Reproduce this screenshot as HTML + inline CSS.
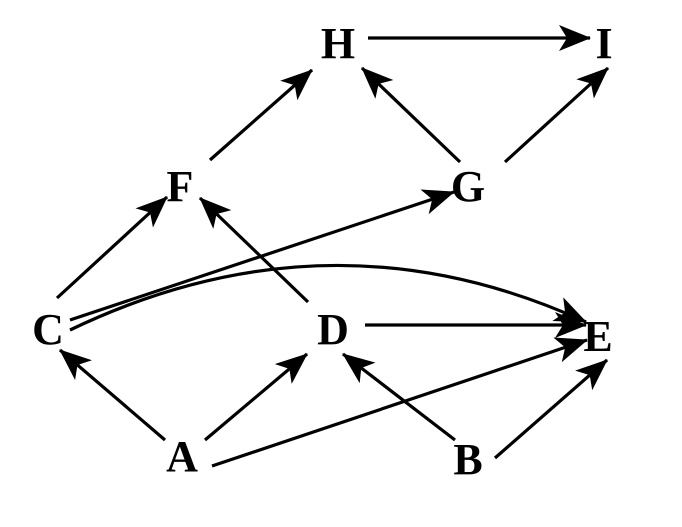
<!DOCTYPE html>
<html><head><style>html,body{margin:0;padding:0;background:#fff}</style></head>
<body>
<svg width="682" height="522" viewBox="0 0 682 522" xmlns="http://www.w3.org/2000/svg">
<defs>
<marker id="a" viewBox="0 0 32 26" refX="31" refY="13" markerWidth="32" markerHeight="26" markerUnits="userSpaceOnUse" orient="auto">
<path d="M0,0 L32,13 L0,26 L8,13 Z" fill="#000"/>
</marker>
</defs>
<g stroke="#000" stroke-width="3.2" fill="none" marker-end="url(#a)">
<line x1="368" y1="38" x2="590" y2="38"/>
<line x1="210" y1="160" x2="312" y2="70"/>
<line x1="460" y1="162" x2="362" y2="68"/>
<line x1="505" y1="162" x2="608" y2="68"/>
<line x1="57" y1="298" x2="167" y2="197"/>
<line x1="308" y1="302" x2="200" y2="198"/>
<line x1="70" y1="320" x2="454" y2="192"/>
<path d="M70,330 Q330,205 586,322"/>
<line x1="365" y1="325" x2="586" y2="325"/>
<line x1="165" y1="440" x2="60" y2="350"/>
<line x1="205" y1="440" x2="307" y2="354"/>
<line x1="212" y1="466" x2="587" y2="340"/>
<line x1="455" y1="440" x2="343" y2="354"/>
<line x1="495" y1="458" x2="607" y2="360"/>
</g>
<g font-family="Liberation Serif, serif" font-weight="bold" font-size="44" text-anchor="middle" fill="#000">
<text x="338" y="58">H</text>
<text x="604" y="58">I</text>
<text x="180" y="201">F</text>
<text x="468" y="201">G</text>
<text x="48" y="344">C</text>
<text x="333" y="344">D</text>
<text x="598" y="351">E</text>
<text x="182" y="471">A</text>
<text x="468" y="474">B</text>
</g>
</svg>
</body></html>
